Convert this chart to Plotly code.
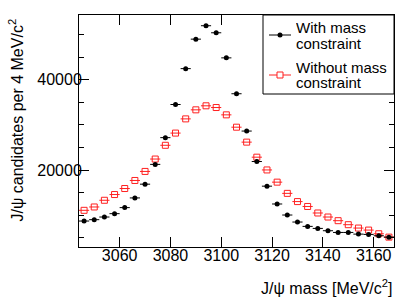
import plotly.graph_objects as go

mass = [3046 + 4 * i for i in range(31)]
with_constraint = [8740, 9040, 9630, 10370, 11710, 13850, 16890, 21270, 27180, 34510,
                   42440, 48960, 51930, 50370, 44820, 36890, 28640, 21900, 16450, 12510,
                   10070, 8520, 7560, 7110, 6600, 6220, 6220, 5850, 5780, 5490, 5180]
without_constraint = [11110, 11850, 13330, 14600, 15930, 17710, 19710, 22450, 25490, 28190,
                      31330, 33330, 34220, 33840, 32220, 29490, 26190, 22860, 20040, 17340,
                      14860, 13040, 11960, 10520, 9630, 8820, 7930, 7190, 6740, 5930, 5180]
half_bin = 2
x_ticks = [3060, 3080, 3100, 3120, 3140, 3160]
y_ticks = [20000, 40000]
y_tick_text = ["20000", "40000"]
legend_lines = [["With mass", "constraint"], ["Without mass", "constraint"]]

FONT = "Liberation Sans, Arial, sans-serif"
RED = "#ff2020"

# plot area in pixels (for legend decoration placement)
L, R, T, B = 79, 394, 15, 247
def px(xp):
    return (xp - L) / (R - L)
def py(yp):
    return (B - yp) / (B - T)

fig = go.Figure()
fig.add_trace(go.Scatter(
    x=mass, y=without_constraint, mode="markers", showlegend=False,
    marker=dict(symbol="square-open", size=6, color=RED, line=dict(width=1)),
    error_x=dict(type="constant", value=half_bin, width=0, color=RED, thickness=1),
))
fig.add_trace(go.Scatter(
    x=mass, y=with_constraint, mode="markers", showlegend=False,
    marker=dict(symbol="circle", size=5, color="black"),
    error_x=dict(type="constant", value=half_bin, width=0, color="black", thickness=1),
))

shapes = [
    dict(type="rect", xref="paper", yref="paper", x0=px(263), x1=1, y0=py(94), y1=1,
         line=dict(color="black", width=1), fillcolor="white", layer="above"),
    dict(type="line", xref="paper", yref="paper", x0=px(269), x1=px(291), y0=py(35), y1=py(35),
         line=dict(color="black", width=1), layer="above"),
    dict(type="circle", xref="paper", yref="paper", xsizemode="pixel", ysizemode="pixel",
         xanchor=px(280), yanchor=py(35), x0=-2.5, x1=2.5, y0=-2.5, y1=2.5,
         fillcolor="black", line=dict(color="black", width=0), layer="above"),
    dict(type="line", xref="paper", yref="paper", x0=px(269), x1=px(291), y0=py(75), y1=py(75),
         line=dict(color=RED, width=1), layer="above"),
    dict(type="rect", xref="paper", yref="paper", xsizemode="pixel", ysizemode="pixel",
         xanchor=px(280), yanchor=py(75), x0=-3, x1=3, y0=-3, y1=3,
         fillcolor="white", line=dict(color=RED, width=1), layer="above"),
]

annotations = [
    dict(text="J/ψ mass [MeV/c<sup>2</sup>]", xref="paper", yref="paper",
         x=1, y=py(287), xanchor="right", yanchor="middle", showarrow=False,
         font=dict(size=16)),
    dict(text="J/ψ candidates per 4 MeV/c<sup>2</sup>", xref="paper", yref="paper",
         x=px(16), y=1, xanchor="center", yanchor="top", yshift=-2,
         textangle=-90, showarrow=False, font=dict(size=16)),
]
line_y = [[27, 43], [67, 82]]
for entry, ys in zip(legend_lines, line_y):
    for txt, yy in zip(entry, ys):
        annotations.append(dict(text=txt, xref="paper", yref="paper", x=px(295), y=py(yy),
                                xanchor="left", yanchor="middle", showarrow=False,
                                height=13, borderpad=0, font=dict(size=15)))

fig.update_layout(
    width=415, height=298,
    margin=dict(l=L, r=415 - R, t=T, b=298 - B, autoexpand=False),
    paper_bgcolor="white", plot_bgcolor="white",
    font=dict(family=FONT, size=16, color="black"),
    showlegend=False,
    xaxis=dict(range=[3044, 3168], tickvals=x_ticks, ticks="inside", ticklen=10,
               showline=True, linecolor="black", linewidth=1, mirror="ticks",
               showgrid=False, zeroline=False, tickcolor="black",
               tickfont=dict(size=16), ticklabelstandoff=-6),
    yaxis=dict(range=[3000, 54300], tickvals=y_ticks, ticktext=y_tick_text,
               ticks="inside", ticklen=10,
               showline=True, linecolor="black", linewidth=1, mirror="ticks",
               showgrid=False, zeroline=False, tickcolor="black",
               tickfont=dict(size=16), ticklabelstandoff=-7,
               minor=dict(dtick=5000, tick0=0, ticks="inside", ticklen=5, tickcolor="black",
                          showgrid=False)),
    shapes=shapes,
    annotations=annotations,
)

fig.write_html("out.html", config={"displayModeBar": False},
               post_script="document.body.style.margin='0';")
